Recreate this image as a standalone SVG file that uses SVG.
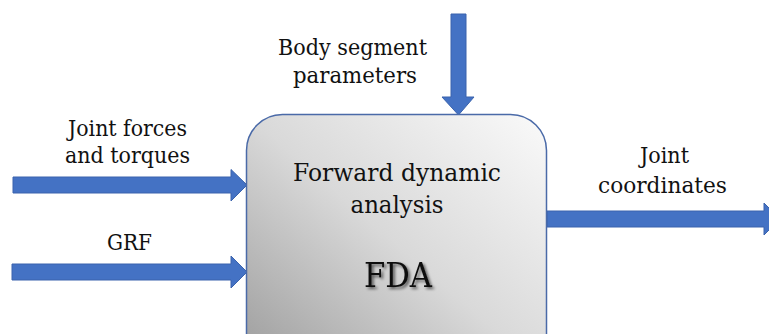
<svg xmlns="http://www.w3.org/2000/svg" width="769" height="334" viewBox="0 0 769 334">
<style>
.t{font-family:"DejaVu Serif","Liberation Serif",serif;font-size:23px;fill:#111;text-anchor:middle}
.b{font-size:25px}
.f{font-size:34px}
.ar{fill:#4472c4;stroke:#3a63ad;stroke-width:1}
</style>
<defs>
<linearGradient id="g" x1="1" y1="0" x2="0" y2="1">
<stop offset="0" stop-color="#fafafa"/>
<stop offset="0.5" stop-color="#d9d9d9"/>
<stop offset="1" stop-color="#9a9a9a"/>
</linearGradient>
<filter id="sh" x="-20%" y="-20%" width="140%" height="140%">
<feGaussianBlur in="SourceAlpha" stdDeviation="1.5"/>
<feOffset dx="2" dy="2" result="b"/>
<feComponentTransfer><feFuncA type="linear" slope="0.6"/></feComponentTransfer>
<feMerge><feMergeNode/><feMergeNode in="SourceGraphic"/></feMerge>
</filter>
</defs>
<rect width="769" height="334" fill="#fff"/>
<g id="connectors">
<polygon class="ar" points="451,14 466,14 466,97 474,97 458.5,115 442,97 451,97"/>
<polygon class="ar" points="13,177 231,177 231,169.5 247,185 231,201 231,193 13,193"/>
<polygon class="ar" points="12,264 231,264 231,256 247,272 231,288 231,280 12,280"/>
<polygon class="ar" points="547,211 764,211 764,203 780,219 764,235 764,227 547,227"/>
</g>
<g id="fda">
<rect x="246.5" y="114.5" width="300" height="260" rx="36" fill="url(#g)" stroke="#4a6aa8" stroke-width="1.5"/>
<text class="t b" x="397" y="181" textLength="208" lengthAdjust="spacingAndGlyphs">Forward dynamic</text>
<text class="t b" x="397" y="213" textLength="93" lengthAdjust="spacingAndGlyphs">analysis</text>
<text class="t f" x="398" y="287" textLength="68" lengthAdjust="spacingAndGlyphs" filter="url(#sh)">FDA</text>
</g>
<g id="label-body">
<text class="t" x="352.5" y="55" textLength="149" lengthAdjust="spacingAndGlyphs">Body segment</text>
<text class="t" x="355" y="83" textLength="124" lengthAdjust="spacingAndGlyphs">parameters</text>
</g>
<g id="label-joint-forces">
<text class="t" x="127.5" y="136" textLength="119" lengthAdjust="spacingAndGlyphs">Joint forces</text>
<text class="t" x="127.5" y="163" textLength="125" lengthAdjust="spacingAndGlyphs">and torques</text>
</g>
<g id="label-grf">
<text class="t" x="129.5" y="250" textLength="45" lengthAdjust="spacingAndGlyphs">GRF</text>
</g>
<g id="label-joint-coords">
<text class="t" x="664.5" y="163" textLength="49" lengthAdjust="spacingAndGlyphs">Joint</text>
<text class="t" x="662.5" y="193" textLength="129" lengthAdjust="spacingAndGlyphs">coordinates</text>
</g>
</svg>
